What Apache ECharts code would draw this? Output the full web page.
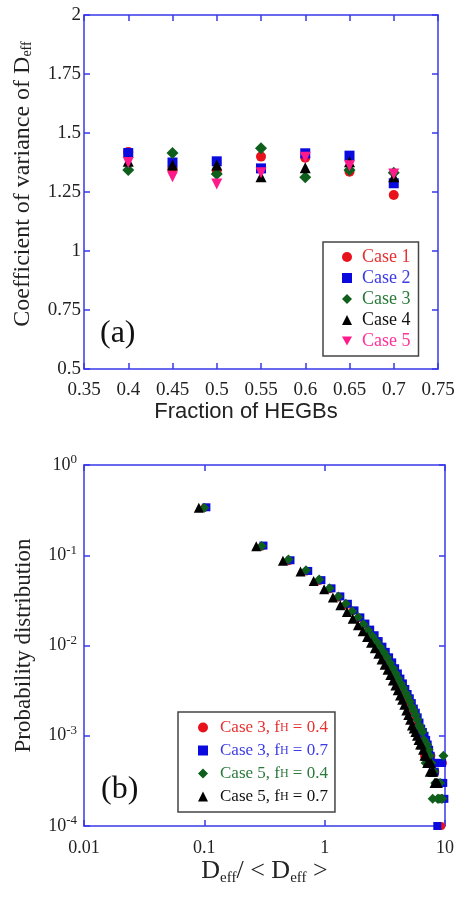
<!DOCTYPE html>
<html><head><meta charset="utf-8">
<script src="https://cdn.jsdelivr.net/npm/echarts@6/dist/echarts.min.js"></script>
<style>html,body{margin:0;padding:0;background:#fff}#c{width:459px;height:897px}</style>
</head><body><div id="c"></div>
<script>
// ---------- Panel (a) ----------
const fractions = [0.4, 0.45, 0.5, 0.55, 0.6, 0.65, 0.7];
const case1 = [1.42, 1.35, 1.34, 1.40, 1.395, 1.336, 1.237];
const case2 = [1.415, 1.375, 1.38, 1.35, 1.414, 1.404, 1.287];
const case3 = [1.343, 1.415, 1.326, 1.435, 1.312, 1.343, 1.332];
const case4 = [1.38, 1.364, 1.364, 1.315, 1.353, 1.378, 1.315];
const case5 = [1.375, 1.315, 1.284, 1.332, 1.397, 1.361, 1.326];
const xTicksA = [0.35, 0.75, 0.05];
const yTicksA = [0.5, 2, 0.25];

// ---------- Panel (b) ----------
const redX = [0.1,0.3,0.5,0.7,0.9,1.1,1.3,1.5,1.7,1.9,2.1,2.3,2.5,2.7,2.9,3.1,3.3,3.5,3.7,3.9,4.1,4.3,4.5,4.7,4.9,5.1,5.3,5.5,5.7,5.9,6.1,6.3,6.5,6.7,6.9,7.1,7.3,7.5,7.7,7.9,8.1,8.3,8.5,8.7,8.9,9.1,9.3,9.6];
const redY = [0.335,0.125,0.086,0.066,0.052,0.042,0.034,0.028,0.024,0.020,0.017,0.0146,0.0126,0.0108,0.0094,0.0082,0.0071,0.0062,0.0055,0.0048,0.0042,0.0037,0.0033,0.0029,0.0026,0.0023,0.0020,0.0018,0.0016,0.0014,0.0013,0.0011,0.0010,0.0006,0.0008,0.0007,0.0007,0.0005,0.0006,0.0004,0.0005,0.0004,0.0003,0.0003,0.0002,0.0003,0.0001,0.0005];
const blueX = [0.104,0.31,0.52,0.73,0.94,1.14,1.35,1.56,1.77,1.98,2.18,2.39,2.6,2.81,3.02,3.22,3.43,3.64,3.85,4.06,4.26,4.47,4.68,4.89,5.1,5.3,5.51,5.72,5.93,6.14,6.34,6.55,6.76,6.97,7.18,7.38,7.59,7.8,8.01,8.22,8.42,8.63,8.84,9.05,9.26,9.46,9.67,9.88];
const blueY = [0.34,0.128,0.088,0.067,0.053,0.043,0.035,0.029,0.0245,0.0205,0.0175,0.015,0.013,0.0112,0.0097,0.0085,0.0074,0.0065,0.0056,0.0049,0.0043,0.0038,0.0033,0.0029,0.0026,0.0023,0.002,0.0018,0.0016,0.0014,0.0012,0.0011,0.001,0.0009,0.0008,0.0007,0.0006,0.0005,0.0005,0.0004,0.0005,0.0001,0.0003,0.0005,0.0003,0.0005,0.0003,0.0002];
const greenX = [0.1,0.3,0.5,0.7,0.9,1.1,1.3,1.5,1.7,1.9,2.1,2.3,2.5,2.7,2.9,3.1,3.3,3.5,3.7,3.9,4.1,4.3,4.5,4.7,4.9,5.1,5.3,5.5,5.7,5.9,6.1,6.3,6.5,6.7,6.9,7.1,7.3,7.5,7.7,7.9,8.1,8.3,8.5,8.7,8.9,9.1,9.3,9.5,9.7];
const greenY = [0.335,0.127,0.09,0.068,0.054,0.043,0.035,0.029,0.024,0.0205,0.0172,0.0148,0.0127,0.011,0.0096,0.0084,0.0074,0.0064,0.0056,0.0049,0.0043,0.0038,0.0034,0.003,0.0027,0.0024,0.0021,0.0019,0.0017,0.0015,0.0013,0.0012,0.0011,0.0009,0.0005,0.0008,0.0007,0.0006,0.0005,0.0002,0.0004,0.0003,0.0003,0.0002,0.0002,0.0003,0.0002,0.0002,0.0006];
const blackX = [0.09,0.27,0.45,0.63,0.81,0.99,1.17,1.35,1.53,1.71,1.89,2.07,2.25,2.43,2.61,2.79,2.97,3.15,3.33,3.51,3.69,3.87,4.05,4.23,4.41,4.59,4.77,4.95,5.13,5.31,5.49,5.67,5.85,6.03,6.21,6.39,6.57,6.75,6.93,7.11,7.29,7.47,7.65,7.83,8.01,8.19,8.37,8.55,8.73];
const blackY = [0.335,0.126,0.087,0.066,0.052,0.042,0.034,0.028,0.0235,0.0198,0.0168,0.0144,0.0124,0.0107,0.0093,0.0081,0.007,0.0061,0.0054,0.0047,0.0041,0.0036,0.0032,0.0028,0.0025,0.0022,0.0019,0.0017,0.0015,0.0013,0.0012,0.0011,0.001,0.0009,0.0008,0.0008,0.0007,0.0006,0.0006,0.0005,0.0005,0.0004,0.0005,0.0004,0.0004,0.0003,0.0003,0.0003,0.0003];
const xRangeB = [0.01, 10];
const yRangeB = [0.0001, 1];

const SERIF = "'Liberation Serif','Times New Roman',serif";
const AX = '#3838ec';
const DOWN = 'path://M0,0L10,0L5,9Z';
const zip = (xs, ys) => xs.map((x, i) => [x, ys[i]]);

function frame(gi, pos, show) {
  return {
    gridIndex: gi, position: pos,
    axisLine: {show: true, onZero: false, lineStyle: {color: AX, width: 1.5}},
    axisTick: {show: true, inside: true, length: 6, lineStyle: {color: AX, width: 1.5}},
    splitLine: {show: false},
    minorTick: {show: false},
    axisLabel: {show: show, color: '#222', fontFamily: SERIF, fontSize: 19}
  };
}
const fmtA = v => String(parseFloat(v.toFixed(2)));

const xa0 = Object.assign(frame(0, 'bottom', true), {type: 'value', min: xTicksA[0], max: xTicksA[1], interval: xTicksA[2],
  name: 'Fraction of HEGBs', nameLocation: 'middle', nameGap: 30,
  nameTextStyle: {fontFamily: "'Liberation Sans',Arial,sans-serif", fontSize: 22, color: '#222', padding: [0, 30, 0, 0]}});
xa0.axisLabel.formatter = fmtA; xa0.axisLabel.margin = 12;
const xa1 = Object.assign(frame(0, 'top', false), {type: 'value', min: xTicksA[0], max: xTicksA[1], interval: xTicksA[2]});
const ya0 = Object.assign(frame(0, 'left', true), {type: 'value', min: yTicksA[0], max: yTicksA[1], interval: yTicksA[2],
  name: 'Coefficient of variance of D{sub|eff}', nameLocation: 'middle', nameGap: 49, nameRotate: 90,
  nameTextStyle: {fontFamily: SERIF, fontSize: 24, color: '#222', padding: [0, 0, 0, 16],
    rich: {sub: {fontFamily: SERIF, fontSize: 14, color: '#222', padding: [8, 0, 0, 0]}}}});
ya0.axisLabel.formatter = fmtA; ya0.axisLabel.margin = 3;
const ya1 = Object.assign(frame(0, 'right', false), {type: 'value', min: yTicksA[0], max: yTicksA[1], interval: yTicksA[2]});

const xb0 = Object.assign(frame(1, 'bottom', true), {type: 'log', logBase: 10, min: xRangeB[0], max: xRangeB[1],
  name: 'D{sub|eff}/ < D{sub|eff} >', nameLocation: 'middle', nameGap: 31,
  nameTextStyle: {fontFamily: SERIF, fontSize: 26, color: '#222', rich: {sub: {fontFamily: SERIF, fontSize: 15, color: '#222', padding: [14, 0, 0, 0]}}}});
xb0.axisLabel.formatter = v => v >= 1 ? String(Math.round(v)) : String(parseFloat(v.toPrecision(1)));
xb0.axisLabel.margin = 13; xb0.axisLabel.fontSize = 18;
const xb1 = Object.assign(frame(1, 'top', false), {type: 'log', logBase: 10, min: xRangeB[0], max: xRangeB[1]});
const yb0 = Object.assign(frame(1, 'left', true), {type: 'log', logBase: 10, min: yRangeB[0], max: yRangeB[1],
  name: 'Probability distribution', nameLocation: 'middle', nameGap: 49, nameRotate: 90,
  nameTextStyle: {fontFamily: SERIF, fontSize: 23, color: '#222'}});
yb0.axisLabel.formatter = v => '10{sup|' + Math.round(Math.log10(v)) + '}';
yb0.axisLabel.margin = 7; yb0.axisLabel.fontSize = 18;
yb0.axisLabel.rich = {sup: {fontFamily: SERIF, fontSize: 13, color: '#222', padding: [0, 0, 10, 0]}};
const yb1 = Object.assign(frame(1, 'right', false), {type: 'log', logBase: 10, min: yRangeB[0], max: yRangeB[1]});

function sc(name, data, color, symbol, size, xi, yi) {
  return {name, type: 'scatter', data, xAxisIndex: xi, yAxisIndex: yi, symbol, symbolSize: size,
    itemStyle: {color, opacity: 1}, emphasis: {disabled: true}, animation: false};
}
const RED = '#e8121c', BLUE = '#0a0ade', GREEN = '#0e5e1c', BLACK = '#000000', PINK = '#ff1a8c';

const option = {
  backgroundColor: '#fff',
  animation: false,
  grid: [
    {left: 84, top: 15, width: 354, height: 354},
    {left: 84, top: 465, width: 361, height: 361}
  ],
  xAxis: [xa0, xa1, xb0, xb1],
  yAxis: [ya0, ya1, yb0, yb1],
  legend: [
    {orient: 'vertical', left: 323, top: 242, padding: [6, 8, 6, 19], itemGap: 3, itemWidth: 10, itemHeight: 10,
     borderColor: '#444', borderWidth: 1.5, backgroundColor: '#fff', selectedMode: false,
     textStyle: {fontFamily: SERIF, fontSize: 18, lineHeight: 18, padding: [0, 0, 0, 5]},
     data: [
       {name: 'Case 1', icon: 'circle', textStyle: {color: '#e63232'}},
       {name: 'Case 2', icon: 'rect', textStyle: {color: '#3c3ce6'}},
       {name: 'Case 3', icon: 'diamond', textStyle: {color: '#2a7a3a'}},
       {name: 'Case 4', icon: 'triangle', textStyle: {color: '#111'}},
       {name: 'Case 5', icon: DOWN, textStyle: {color: '#ff3399'}}
     ]},
    {orient: 'vertical', left: 178, top: 712, padding: [6, 7, 6, 20], itemGap: 4, itemWidth: 10, itemHeight: 10,
     borderColor: '#444', borderWidth: 1.5, backgroundColor: '#fff', selectedMode: false,
     textStyle: {fontFamily: SERIF, fontSize: 17, lineHeight: 19, padding: [0, 0, 0, 7], rich: {h: {fontFamily: SERIF, fontSize: 12}}},
     formatter: n => n.replace('fH', 'f{h|H}'),
     data: [
       {name: 'Case 3, fH = 0.4', icon: 'circle', textStyle: {color: '#e63232'}},
       {name: 'Case 3, fH = 0.7', icon: 'rect', textStyle: {color: '#3c3ce6'}},
       {name: 'Case 5, fH = 0.4', icon: 'diamond', textStyle: {color: '#2a7a3a'}},
       {name: 'Case 5, fH = 0.7', icon: 'triangle', textStyle: {color: '#111'}}
     ]}
  ],
  graphic: [
    {type: 'text', left: 100, top: 318, style: {text: '(a)', font: '32px ' + SERIF, fill: '#111'}},
    {type: 'text', left: 101, top: 774, style: {text: '(b)', font: '32px ' + SERIF, fill: '#111'}}
  ],
  series: [
    sc('Case 1', zip(fractions, case1), RED, 'circle', 10, 0, 0),
    sc('Case 2', zip(fractions, case2), BLUE, 'rect', 10, 0, 0),
    sc('Case 3', zip(fractions, case3), GREEN, 'diamond', 12, 0, 0),
    sc('Case 4', zip(fractions, case4), BLACK, 'triangle', 11, 0, 0),
    sc('Case 5', zip(fractions, case5), PINK, DOWN, 11, 0, 0),
    sc('Case 3, fH = 0.4', zip(redX, redY), RED, 'circle', 8, 2, 2),
    sc('Case 3, fH = 0.7', zip(blueX, blueY), BLUE, 'rect', 8, 2, 2),
    sc('Case 5, fH = 0.4', zip(greenX, greenY), GREEN, 'diamond', 10, 2, 2),
    sc('Case 5, fH = 0.7', zip(blackX, blackY), BLACK, 'triangle', 10, 2, 2)
  ]
};
const chart = echarts.init(document.getElementById('c'), null, {renderer: 'canvas'});
chart.setOption(option);
</script></body></html>
